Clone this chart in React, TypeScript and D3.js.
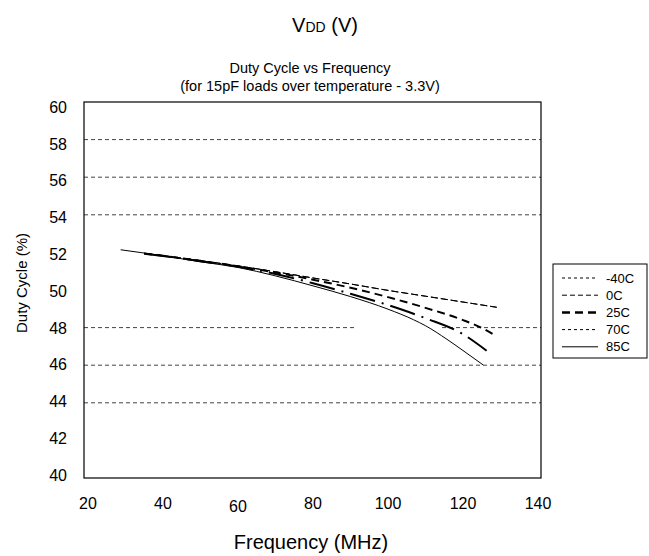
import React from "react";
import * as d3 from "d3";

// ---------- data ----------
const seriesNames = ["-40C", "0C", "25C", "70C", "85C"];

const freqM40 = [35, 40, 50, 60, 70, 80, 90, 100, 110, 120, 129];
const dutyM40 = [51.95, 51.83, 51.56, 51.28, 50.97, 50.64, 50.32, 49.98, 49.67, 49.36, 49.08];

const freq0 = [35, 40, 50, 60, 70, 80, 90, 100, 110, 120, 129];
const duty0 = [51.95, 51.83, 51.56, 51.28, 50.97, 50.64, 50.32, 49.98, 49.67, 49.36, 49.08];

const freq25 = [35, 40, 50, 60, 70, 80, 90, 100, 110, 120, 125, 128.8];
const duty25 = [51.94, 51.82, 51.55, 51.26, 50.93, 50.55, 50.12, 49.62, 49.05, 48.4, 47.98, 47.55];

const freq70 = [35, 40, 50, 60, 70, 80, 90, 100, 110, 120, 126.3];
const duty70 = [51.93, 51.81, 51.53, 51.24, 50.85, 50.36, 49.8, 49.2, 48.5, 47.65, 46.77];

const freq85 = [28.7, 40, 50, 60, 70, 80, 90, 100, 106.8, 110, 115.7, 120, 125.4];
const duty85 = [52.14, 51.82, 51.5, 51.2, 50.75, 50.22, 49.65, 48.98, 48.42, 48.1, 47.38, 46.78, 46.01];

const freqTicks = [20, 40, 60, 80, 100, 120, 140];
const dutyTicks = [40, 42, 44, 46, 48, 50, 52, 54, 56, 58, 60];
const gridValues = [58, 56, 54, 48, 46, 44];
// gap (in MHz) where the 48% gridline is interrupted
const gridGapValue = 48;
const gridGapFrom = 91.2;
const gridGapTo = 114.4;

const titleMain = "Duty Cycle vs Frequency";
const titleSub = "(for 15pF loads over temperature - 3.3V)";
const xTitle = "Frequency (MHz)";
const yTitle = "Duty Cycle (%)";

// ---------- styles ----------
const chartStyles = [
  { w: 1, dash: "7,3" },
  { w: 1, dash: "7,3" },
  { w: 2, dash: "8,5" },
  { w: 2, dash: "26,7,2,7" },
  { w: 1, dash: "" },
];
const legendStyles = [
  { w: 1, dash: "3,3" },
  { w: 1, dash: "5,3" },
  { w: 2.5, dash: "8,5" },
  { w: 1, dash: "3,3" },
  { w: 1, dash: "" },
];

const FONT = "'Liberation Sans', Arial, sans-serif";

export default function App() {
  const W = 649, H = 556;
  const plot = { left: 84, right: 541, top: 102, bottom: 478 };

  const x = d3.scaleLinear().domain([20, 140]).range([88, 538]);
  const y = d3.scaleLinear().domain([40, 60]).range([plot.bottom, plot.top]);
  const yLabel = d3.scaleLinear().domain([40, 60]).range([475, 107]);

  const seriesData = [
    d3.zip(freqM40, dutyM40),
    d3.zip(freq0, duty0),
    d3.zip(freq25, duty25),
    d3.zip(freq70, duty70),
    d3.zip(freq85, duty85),
  ];

  const line = d3
    .line<number[]>()
    .x((d) => x(d[0]))
    .y((d) => y(d[1]))
    .curve(d3.curveMonotoneX);

  const legend = { x: 553, y: 264, w: 94, h: 94, rowY0: 278, rowStep: 17.2 };

  return (
    <svg width={W} height={H} style={{ position: "absolute", left: 0, top: 0, background: "#fff" }} fontFamily={FONT}>
      <rect x={0} y={0} width={W} height={H} fill="#fff" />
      {/* titles */}
      <text x={325} y={32} textAnchor="middle" fontSize={20} fill="#000">
        <tspan>V</tspan>
        <tspan fontSize={14}>DD</tspan>
        <tspan> (V)</tspan>
      </text>
      <text x={310} y={73} textAnchor="middle" fontSize={14.5} fill="#000">{titleMain}</text>
      <text x={310} y={91} textAnchor="middle" fontSize={14.5} fill="#000">{titleSub}</text>

      {/* gridlines */}
      {gridValues.map((v) => {
        const yy = y(v);
        if (v === gridGapValue) {
          return (
            <g key={v}>
              <line x1={plot.left} x2={x(gridGapFrom)} y1={yy} y2={yy} stroke="#444" strokeWidth={1} strokeDasharray="4,3" />
              <line x1={x(gridGapTo)} x2={plot.right} y1={yy} y2={yy} stroke="#444" strokeWidth={1} strokeDasharray="4,3" />
            </g>
          );
        }
        return <line key={v} x1={plot.left} x2={plot.right} y1={yy} y2={yy} stroke="#444" strokeWidth={1} strokeDasharray="4,3" />;
      })}

      {/* series */}
      {seriesData.map((d, i) => (
        <path
          key={seriesNames[i]}
          d={line(d) || ""}
          fill="none"
          stroke="#000"
          strokeWidth={chartStyles[i].w}
          strokeDasharray={chartStyles[i].dash || undefined}
        />
      ))}

      {/* frame */}
      <rect x={plot.left} y={plot.top} width={plot.right - plot.left} height={plot.bottom - plot.top} fill="none" stroke="#000" strokeWidth={1.2} />

      {/* y tick labels */}
      {dutyTicks.map((v) => (
        <text key={v} x={67} y={yLabel(v)} dy="0.36em" textAnchor="end" fontSize={16} fill="#000">{v}</text>
      ))}
      {/* x tick labels */}
      {freqTicks.map((v) => (
        <text key={v} x={x(v)} y={v === 60 ? 512 : 509} textAnchor="middle" fontSize={16} fill="#000">{v}</text>
      ))}

      {/* axis titles */}
      <text x={311} y={549} textAnchor="middle" fontSize={20} fill="#000">{xTitle}</text>
      <text transform={`translate(27,${283}) rotate(-90)`} textAnchor="middle" fontSize={15} fill="#000">{yTitle}</text>

      {/* legend */}
      <rect x={legend.x} y={legend.y} width={legend.w} height={legend.h} fill="#fff" stroke="#000" strokeWidth={1} />
      {seriesNames.map((name, i) => {
        const yy = legend.rowY0 + i * legend.rowStep;
        return (
          <g key={name}>
            <line x1={562} x2={598} y1={yy} y2={yy} stroke="#000" strokeWidth={legendStyles[i].w} strokeDasharray={legendStyles[i].dash || undefined} />
            <text x={606} y={yy} dy="0.36em" fontSize={13} fill="#000">{name}</text>
          </g>
        );
      })}
    </svg>
  );
}
